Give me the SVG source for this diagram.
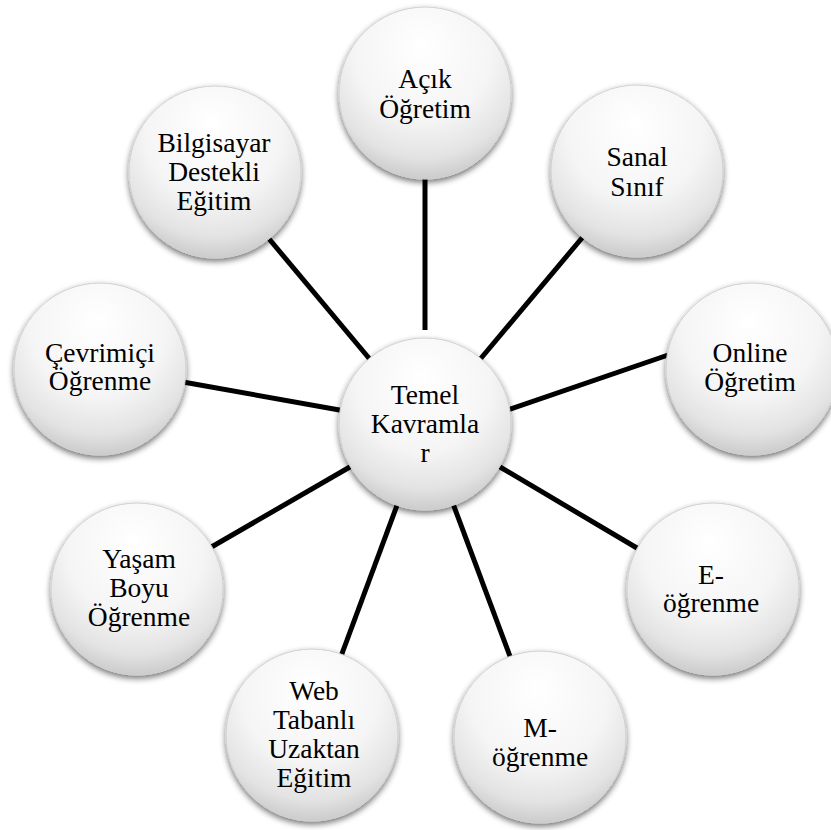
<svg xmlns="http://www.w3.org/2000/svg" width="831" height="830" viewBox="0 0 831 830">
  <defs>
    <radialGradient id="ball" cx="50%" cy="30%" r="72%" fx="48%" fy="22%">
      <stop offset="0%" stop-color="#ffffff"/>
      <stop offset="55%" stop-color="#f5f5f5"/>
      <stop offset="82%" stop-color="#e3e3e3"/>
      <stop offset="100%" stop-color="#c8c8c8"/>
    </radialGradient>
    <filter id="drop" x="-20%" y="-20%" width="140%" height="145%">
      <feGaussianBlur in="SourceAlpha" stdDeviation="3"/>
      <feOffset dx="0" dy="3" result="blur"/>
      <feComponentTransfer>
        <feFuncA type="linear" slope="0.55"/>
      </feComponentTransfer>
      <feMerge>
        <feMergeNode/>
        <feMergeNode in="SourceGraphic"/>
      </feMerge>
    </filter>
  </defs>
  <style>
    .node circle { fill: url(#ball); stroke: #d0d0d0; stroke-width: 1; filter: url(#drop); }
    .node text { font-family: "Times New Roman", "Liberation Serif", Tinos, "DejaVu Serif", serif; font-size: 27.5px; fill: #000; text-anchor: middle; }
    .link { stroke: #000; stroke-width: 5; fill: none; }
  </style>

  <rect width="831" height="830" fill="#ffffff"/>

  <!-- spokes from the hub to each concept -->
  <g id="connectors">
    <line class="link" x1="425" y1="330" x2="425" y2="175"/>
    <line class="link" x1="477" y1="363" x2="587" y2="232"/>
    <line class="link" x1="373" y1="363" x2="265" y2="234"/>
    <line class="link" x1="505" y1="411" x2="674" y2="353"/>
    <line class="link" x1="345" y1="411" x2="183" y2="382"/>
    <line class="link" x1="355" y1="464" x2="208" y2="549"/>
    <line class="link" x1="399" y1="500" x2="340" y2="659"/>
    <line class="link" x1="452" y1="501" x2="511" y2="659"/>
    <line class="link" x1="495" y1="464" x2="642" y2="551"/>
  </g>

  <g id="hub" class="node">
    <circle cx="425" cy="424" r="86"/>
    <text x="425" y="404">Temel</text>
    <text x="425" y="433">Kavramla</text>
    <text x="425" y="462">r</text>
  </g>

  <g id="acik-ogretim" class="node">
    <circle cx="425" cy="93" r="86"/>
    <text x="425" y="88">Açık</text>
    <text x="425" y="118">Öğretim</text>
  </g>

  <g id="sanal-sinif" class="node">
    <circle cx="637" cy="171" r="86"/>
    <text x="637" y="166">Sanal</text>
    <text x="637" y="196">Sınıf</text>
  </g>

  <g id="online-ogretim" class="node">
    <circle cx="752" cy="369" r="86"/>
    <text x="750" y="362">Online</text>
    <text x="750" y="391">Öğretim</text>
  </g>

  <g id="e-ogrenme" class="node">
    <circle cx="713" cy="589" r="86"/>
    <text x="711" y="584">E-</text>
    <text x="711" y="612">öğrenme</text>
  </g>

  <g id="m-ogrenme" class="node">
    <circle cx="540" cy="737" r="86"/>
    <text x="540" y="737">M-</text>
    <text x="540" y="766">öğrenme</text>
  </g>

  <g id="web-tabanli" class="node">
    <circle cx="312" cy="735" r="86"/>
    <text x="314" y="700">Web</text>
    <text x="314" y="729">Tabanlı</text>
    <text x="314" y="758">Uzaktan</text>
    <text x="314" y="787">Eğitim</text>
  </g>

  <g id="yasam-boyu" class="node">
    <circle cx="137" cy="589" r="86"/>
    <text x="139" y="568">Yaşam</text>
    <text x="139" y="597">Boyu</text>
    <text x="139" y="626">Öğrenme</text>
  </g>

  <g id="cevrimici" class="node">
    <circle cx="100" cy="369" r="86"/>
    <text x="100" y="362">Çevrimiçi</text>
    <text x="100" y="390">Öğrenme</text>
  </g>

  <g id="bilgisayar-destekli" class="node">
    <circle cx="215" cy="172" r="86"/>
    <text x="214" y="152">Bilgisayar</text>
    <text x="214" y="181">Destekli</text>
    <text x="214" y="210">Eğitim</text>
  </g>
</svg>
